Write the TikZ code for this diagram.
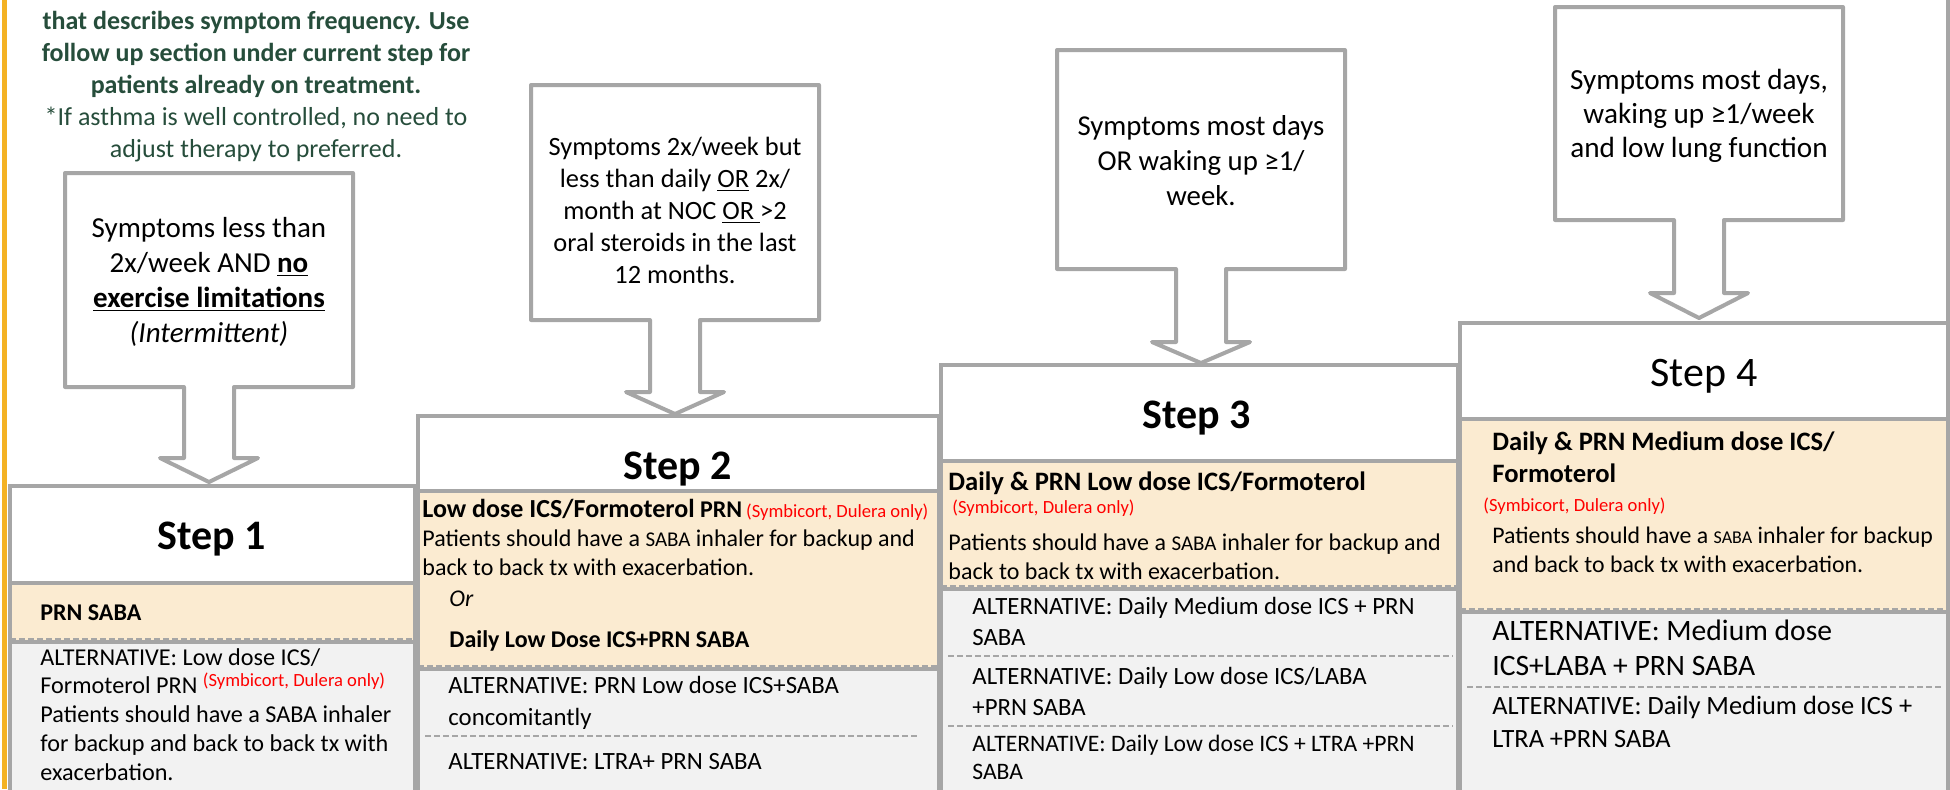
\documentclass[tikz,border=0pt]{standalone}
\usepackage{fontspec}
\setmainfont{Carlito}
\definecolor{frame}{HTML}{A6A6A6}
\definecolor{peach}{HTML}{FBEBD1}
\definecolor{pale}{HTML}{F2F2F2}
\definecolor{note}{HTML}{264D3B}
\definecolor{amber}{HTML}{F4B223}
\newcommand{\brand}{{\color{red}\fontsize{9.3}{10}\selectfont(Symbicort, Dulera only)}}
\newcommand{\saba}{{\fontsize{10.5}{12}\selectfont SABA}}
\newcommand{\stepcol}[5]{%
\fill[white] (#1,#3) rectangle (#2,#4);
\fill[peach] (#1,#4) rectangle (#2,#5);
\fill[pale] (#1,#5) rectangle (#2,800);
\draw[dashsep] (#1,{#5-1}) -- (#2,{#5-1});
\draw[rim] (#1,#4) -- (#2,#4) (#1,{#5+2}) -- (#2,{#5+2});
\draw[rim] (#1,800) -- (#1,#3) -- (#2,#3) -- (#2,800);}
\newcommand{\askbox}[5]{%
\draw[callbox] ({#1-144},#2) -- ({#1+144},#2) -- ({#1+144},#3) -- ({#1+25},#3) -- ({#1+25},#4) -- ({#1+49},#4) -- (#1,#5) -- ({#1-49},#4) -- ({#1-25},#4) -- ({#1-25},#3) -- ({#1-144},#3) -- cycle;}
\begin{document}
\begin{tikzpicture}[x=0.5pt,y=-0.5pt,
  rim/.style={draw=frame,line width=2pt},
  dashsep/.style={draw=frame,line width=1pt,dash pattern=on 3pt off 1.5pt},
  callbox/.style={draw=frame,line width=2pt,fill=white,line join=round},
  stephead/.style={font=\fontsize{21}{25}\selectfont\bfseries},
  asktext/.style={inner sep=0pt,align=center},
  para/.style={inner sep=0pt,align=left,anchor=north west,font=\fontsize{12}{14.4}\selectfont},
  oneline/.style={inner sep=0pt,anchor=west,font=\fontsize{12}{14.4}\selectfont}]
\clip (0,0) rectangle (1950,789);
\fill[amber] (2,0) rectangle (7,789);
\stepcol{10}{415}{486}{583}{640}
\stepcol{418}{939}{416}{491}{667}
\stepcol{941}{1458}{365}{461}{587}
\stepcol{1460}{1948}{323}{419}{610}
\draw[rim] (1948,0) -- (1948,323);
\askbox{209}{173}{387}{458}{482}
\askbox{675}{85}{320}{392}{414}
\askbox{1201}{50}{269}{342}{363}
\askbox{1699}{7}{220}{293}{318}

\node[asktext,text=note,font=\fontsize{13}{16}\selectfont,anchor=north] (intro) at (256,11) {\textbf{that describes symptom frequency. Use}\\\textbf{follow up section under current step for}\\\textbf{patients already on treatment.}\\*If asthma is well controlled, no need to\\adjust therapy to preferred.};

\node[asktext,font=\fontsize{14.5}{17.5}\selectfont] (q1) at (209,282) {Symptoms less than\\2x/week AND \underline{\textbf{no}}\\\underline{\textbf{exercise limitations}}\\\textit{(Intermittent)}};
\node[asktext,font=\fontsize{13.2}{16}\selectfont] (q2) at (675,210) {Symptoms 2x/week but\\less than daily \underline{OR} 2x/\\month at NOC \underline{OR\ }>2\\oral steroids in the last\\12 months.};
\node[asktext,font=\fontsize{14.4}{17.5}\selectfont] (q3) at (1201,161) {Symptoms most days\\OR waking up ≥1/\\week.};
\node[asktext,font=\fontsize{14.6}{17}\selectfont] (q4) at (1699,116) {Symptoms most days,\\waking up ≥1/week\\and low lung function};

\node[stephead] (h1) at (212,539) {Step 1};
\node[stephead] (h2) at (678,469) {Step 2};
\node[stephead] (h3) at (1197,418) {Step 3};
\node[stephead,font=\fontsize{21}{25}\selectfont] (h4) at (1704,376) {Step 4};

\node[oneline,font=\fontsize{12}{14.4}\selectfont\bfseries] (p1) at (40,613) {PRN SABA};
\node[para,font=\fontsize{12.1}{14.35}\selectfont] (a1) at (40,648) {ALTERNATIVE: Low dose ICS/\\Formoterol PRN \raisebox{0.6ex}{\brand}\\Patients should have a SABA inhaler\\for backup and back to back tx with\\exacerbation.};

\node[para,font=\fontsize{12}{14.5}\selectfont] (p2) at (422,499) {{\fontsize{13}{14.5}\selectfont\bfseries Low dose ICS/Formoterol} \textbf{PRN}\,\brand\\Patients should have a \saba{} inhaler for backup and\\back to back tx with exacerbation.};
\node[oneline,font=\fontsize{12}{14.4}\selectfont\itshape] (or2) at (449,599) {Or};
\node[oneline,font=\fontsize{12}{14.4}\selectfont\bfseries] (d2) at (449,641) {Daily Low Dose ICS+PRN SABA};
\node[para,font=\fontsize{12.4}{16}\selectfont] (a2) at (448,676) {ALTERNATIVE: PRN Low dose ICS+SABA\\concomitantly};
\draw[dashsep] (425,736) -- (917,736);
\node[para,font=\fontsize{12.4}{14.4}\selectfont] (b2) at (448,753) {ALTERNATIVE: LTRA+ PRN SABA};

\node[oneline,font=\fontsize{13.3}{14}\selectfont\bfseries] (p3) at (948,483) {Daily \& PRN Low dose ICS/Formoterol};
\node[oneline] (r3) at (952,508) {\brand};
\node[para,font=\fontsize{12}{14.8}\selectfont] (t3) at (948,533) {Patients should have a \saba{} inhaler for backup and\\back to back tx with exacerbation.};
\node[para,font=\fontsize{12.4}{15.5}\selectfont] (a3) at (972,597) {ALTERNATIVE: Daily Medium dose ICS + PRN\\SABA};
\draw[dashsep] (948,656) -- (1453,656);
\node[para,font=\fontsize{12.4}{15.5}\selectfont] (b3) at (972,667) {ALTERNATIVE: Daily Low dose ICS/LABA\\+PRN SABA};
\draw[dashsep] (948,726) -- (1453,726);
\node[para,font=\fontsize{11.8}{14}\selectfont] (c3) at (972,735) {ALTERNATIVE: Daily Low dose ICS + LTRA +PRN\\SABA};

\node[para,font=\fontsize{13.3}{16}\selectfont\bfseries] (p4) at (1492,431) {Daily \& PRN Medium dose ICS/\\Formoterol};
\node[oneline] (r4) at (1483,506) {\brand};
\node[para,font=\fontsize{11.9}{14.5}\selectfont] (t4) at (1492,527) {Patients should have a {\fontsize{9}{10}\selectfont SABA} inhaler for backup\\and back to back tx with exacerbation.};
\node[para,font=\fontsize{14.8}{17.5}\selectfont] (a4) at (1492,620) {ALTERNATIVE: Medium dose\\ICS+LABA + PRN SABA};
\draw[dashsep] (1467,687) -- (1943,687);
\node[para,font=\fontsize{13.2}{16.5}\selectfont] (b4) at (1492,696) {ALTERNATIVE: Daily Medium dose ICS +\\LTRA +PRN SABA};
\end{tikzpicture}
\end{document}
